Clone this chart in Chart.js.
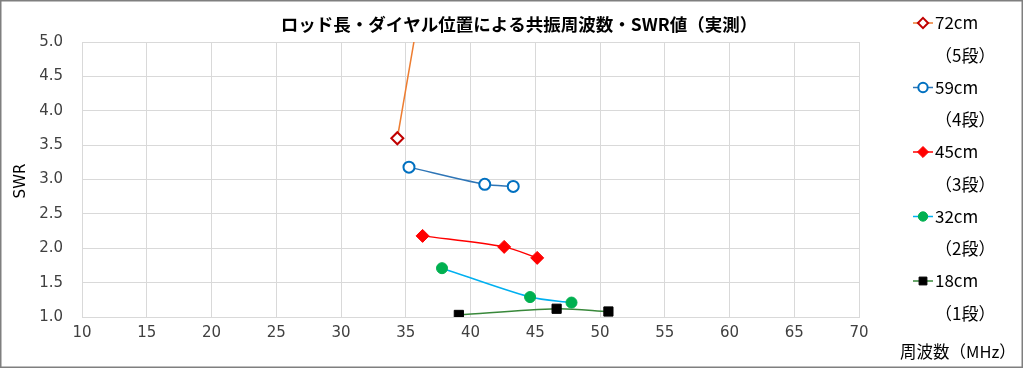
<!DOCTYPE html>
<html>
<head>
<meta charset="utf-8">
<script src="https://cdn.jsdelivr.net/npm/chart.js@4"></script>
<style>
  html, body { margin: 0; padding: 0; background: #fff; }
  #wrap { width: 1024px; height: 370px; position: relative; }
</style>
</head>
<body>
<div id="wrap"><canvas id="swrChart" width="1024" height="370"></canvas></div>
<script>
// Chart data
const chartTitle = 'ロッド長・ダイヤル位置による共振周波数・SWR値（実測）';
const xTitle = '周波数（MHz）';
const yTitle = 'SWR';

const rodNames = ['72cm', '59cm', '45cm', '32cm', '18cm'];
const stepNames = ['（5段）', '（4段）', '（3段）', '（2段）', '（1段）'];

// frequency (MHz) / SWR per rod length
const freq72 = [34.35, 37.0];
const swr72 = [3.60, 6.5];
const freq59 = [35.25, 41.1, 43.3];
const swr59 = [3.18, 2.93, 2.90];
const freq45 = [36.3, 42.6, 45.15];
const swr45 = [2.18, 2.02, 1.86];
const freq32 = [37.8, 44.6, 47.8];
const swr32 = [1.71, 1.29, 1.21];
const freq18 = [39.1, 46.65, 50.65];
const swr18 = [1.03, 1.12, 1.08];

const xTicks = [10, 15, 20, 25, 30, 35, 40, 45, 50, 55, 60, 65, 70];
const yTicks = [1.0, 1.5, 2.0, 2.5, 3.0, 3.5, 4.0, 4.5, 5.0];

const jpFont = '"Noto Sans CJK JP", "DejaVu Sans", sans-serif';
const numFont = '"DejaVu Sans", "Noto Sans CJK JP", sans-serif';

function pairs(xs, ys) {
    return xs.map((x, i) => ({ x: x, y: ys[i] }));
}

const styles = [
    { line: '#ED7D31', fill: '#ffffff', edge: '#C00000', shape: 'rectRot', r: 6, bw: 2 },
    { line: '#2E75B6', fill: '#ffffff', edge: '#0070C0', shape: 'circle', r: 5.5, bw: 2 },
    { line: '#FF0000', fill: '#FF0000', edge: '#FF0000', shape: 'rectRot', r: 6.5, bw: 1 },
    { line: '#00B0F0', fill: '#00B050', edge: '#00B050', shape: 'circle', r: 5.5, bw: 1 },
    { line: '#38883A', fill: '#000000', edge: '#000000', shape: 'rect', r: 6.5, bw: 1 }
];

const seriesData = [
    pairs(freq72, swr72),
    pairs(freq59, swr59),
    pairs(freq45, swr45),
    pairs(freq32, swr32),
    pairs(freq18, swr18)
];

const datasets = rodNames.map((name, i) => ({
    label: name,
    data: seriesData[i],
    showLine: true,
    tension: 0.3,
    borderColor: styles[i].line,
    borderWidth: 1.5,
    pointStyle: styles[i].shape,
    pointRadius: styles[i].r,
    pointHoverRadius: styles[i].r,
    pointBackgroundColor: styles[i].fill,
    pointBorderColor: styles[i].edge,
    pointBorderWidth: styles[i].bw
}));

// draw a legend marker by hand (line stub + point)
function legendMarker(ctx, st, x, y) {
    ctx.save();
    ctx.strokeStyle = st.line;
    ctx.lineWidth = 1.5;
    ctx.beginPath();
    ctx.moveTo(x - 10, y);
    ctx.lineTo(x + 10, y);
    ctx.stroke();
    const r = st.r * 0.85;
    ctx.fillStyle = st.fill;
    ctx.strokeStyle = st.edge;
    ctx.lineWidth = st.bw;
    ctx.beginPath();
    if (st.shape === 'circle') {
        ctx.arc(x, y, r, 0, Math.PI * 2);
    } else if (st.shape === 'rectRot') {
        ctx.moveTo(x, y - r); ctx.lineTo(x + r, y); ctx.lineTo(x, y + r); ctx.lineTo(x - r, y); ctx.closePath();
    } else {
        const s = r * Math.SQRT1_2;
        ctx.rect(x - s, y - s, 2 * s, 2 * s);
    }
    ctx.fill();
    ctx.stroke();
    ctx.restore();
}

const decorations = {
    id: 'decorations',
    beforeDraw(chart) {
        const ctx = chart.ctx;
        ctx.save();
        ctx.fillStyle = '#ffffff';
        ctx.fillRect(0, 0, chart.width, chart.height);
        ctx.restore();
    },
    afterDraw(chart) {
        const ctx = chart.ctx;
        ctx.save();
        // title
        ctx.fillStyle = '#000000';
        ctx.font = 'bold 17.5px ' + jpFont;
        ctx.textAlign = 'center';
        ctx.textBaseline = 'middle';
        ctx.fillText(chartTitle, 519, 24);

        // y axis title
        ctx.font = '15px ' + numFont;
        ctx.fillStyle = '#000000';
        ctx.save();
        ctx.translate(21, 181);
        ctx.rotate(-Math.PI / 2);
        ctx.fillText(yTitle, 0, 0);
        ctx.restore();

        // x axis title, bottom right
        ctx.font = '16.5px ' + jpFont;
        ctx.textAlign = 'left';
        ctx.fillStyle = '#000000';
        ctx.fillText(xTitle, 900, 352);

        // legend on the right, two lines per entry
        ctx.font = '17px ' + jpFont;
        rodNames.forEach((name, i) => {
            const y = 23 + i * 64.5;
            legendMarker(ctx, styles[i], 923, y);
            ctx.fillStyle = '#000000';
            ctx.fillText(name, 935, y);
            ctx.fillText(stepNames[i], 935, y + 32.5);
        });

        // outer frame
        ctx.strokeStyle = '#7F7F7F';
        ctx.lineWidth = 1.5;
        ctx.strokeRect(0.75, 0.75, 1021.5, 366.5);
        ctx.restore();
    }
};

new Chart(document.getElementById('swrChart').getContext('2d'), {
    type: 'scatter',
    data: { datasets: datasets },
    options: {
        responsive: false,
        animation: false,
        layout: { padding: { top: 42, right: 165, left: 0, bottom: 0 } },
        plugins: {
            legend: { display: false },
            title: { display: false },
            tooltip: { enabled: false }
        },
        scales: {
            x: {
                type: 'linear',
                min: xTicks[0],
                max: xTicks[xTicks.length - 1],
                afterBuildTicks: scale => { scale.ticks = xTicks.map(v => ({ value: v })); },
                afterFit: scale => { scale.height = 53; },
                grid: { color: '#D9D9D9', drawTicks: false },
                border: { color: '#D9D9D9' },
                ticks: {
                    padding: 7,
                    color: '#404040',
                    font: { family: numFont, size: 15 }
                }
            },
            y: {
                min: yTicks[0],
                max: yTicks[yTicks.length - 1],
                afterBuildTicks: scale => { scale.ticks = yTicks.map(v => ({ value: v })); },
                afterFit: scale => { scale.width = 82; },
                grid: { color: '#D9D9D9', drawTicks: false },
                border: { color: '#D9D9D9' },
                ticks: {
                    padding: 19,
                    color: '#404040',
                    font: { family: numFont, size: 15 },
                    callback: v => Number(v).toFixed(1)
                }
            }
        }
    },
    plugins: [decorations]
});
</script>
</body>
</html>
